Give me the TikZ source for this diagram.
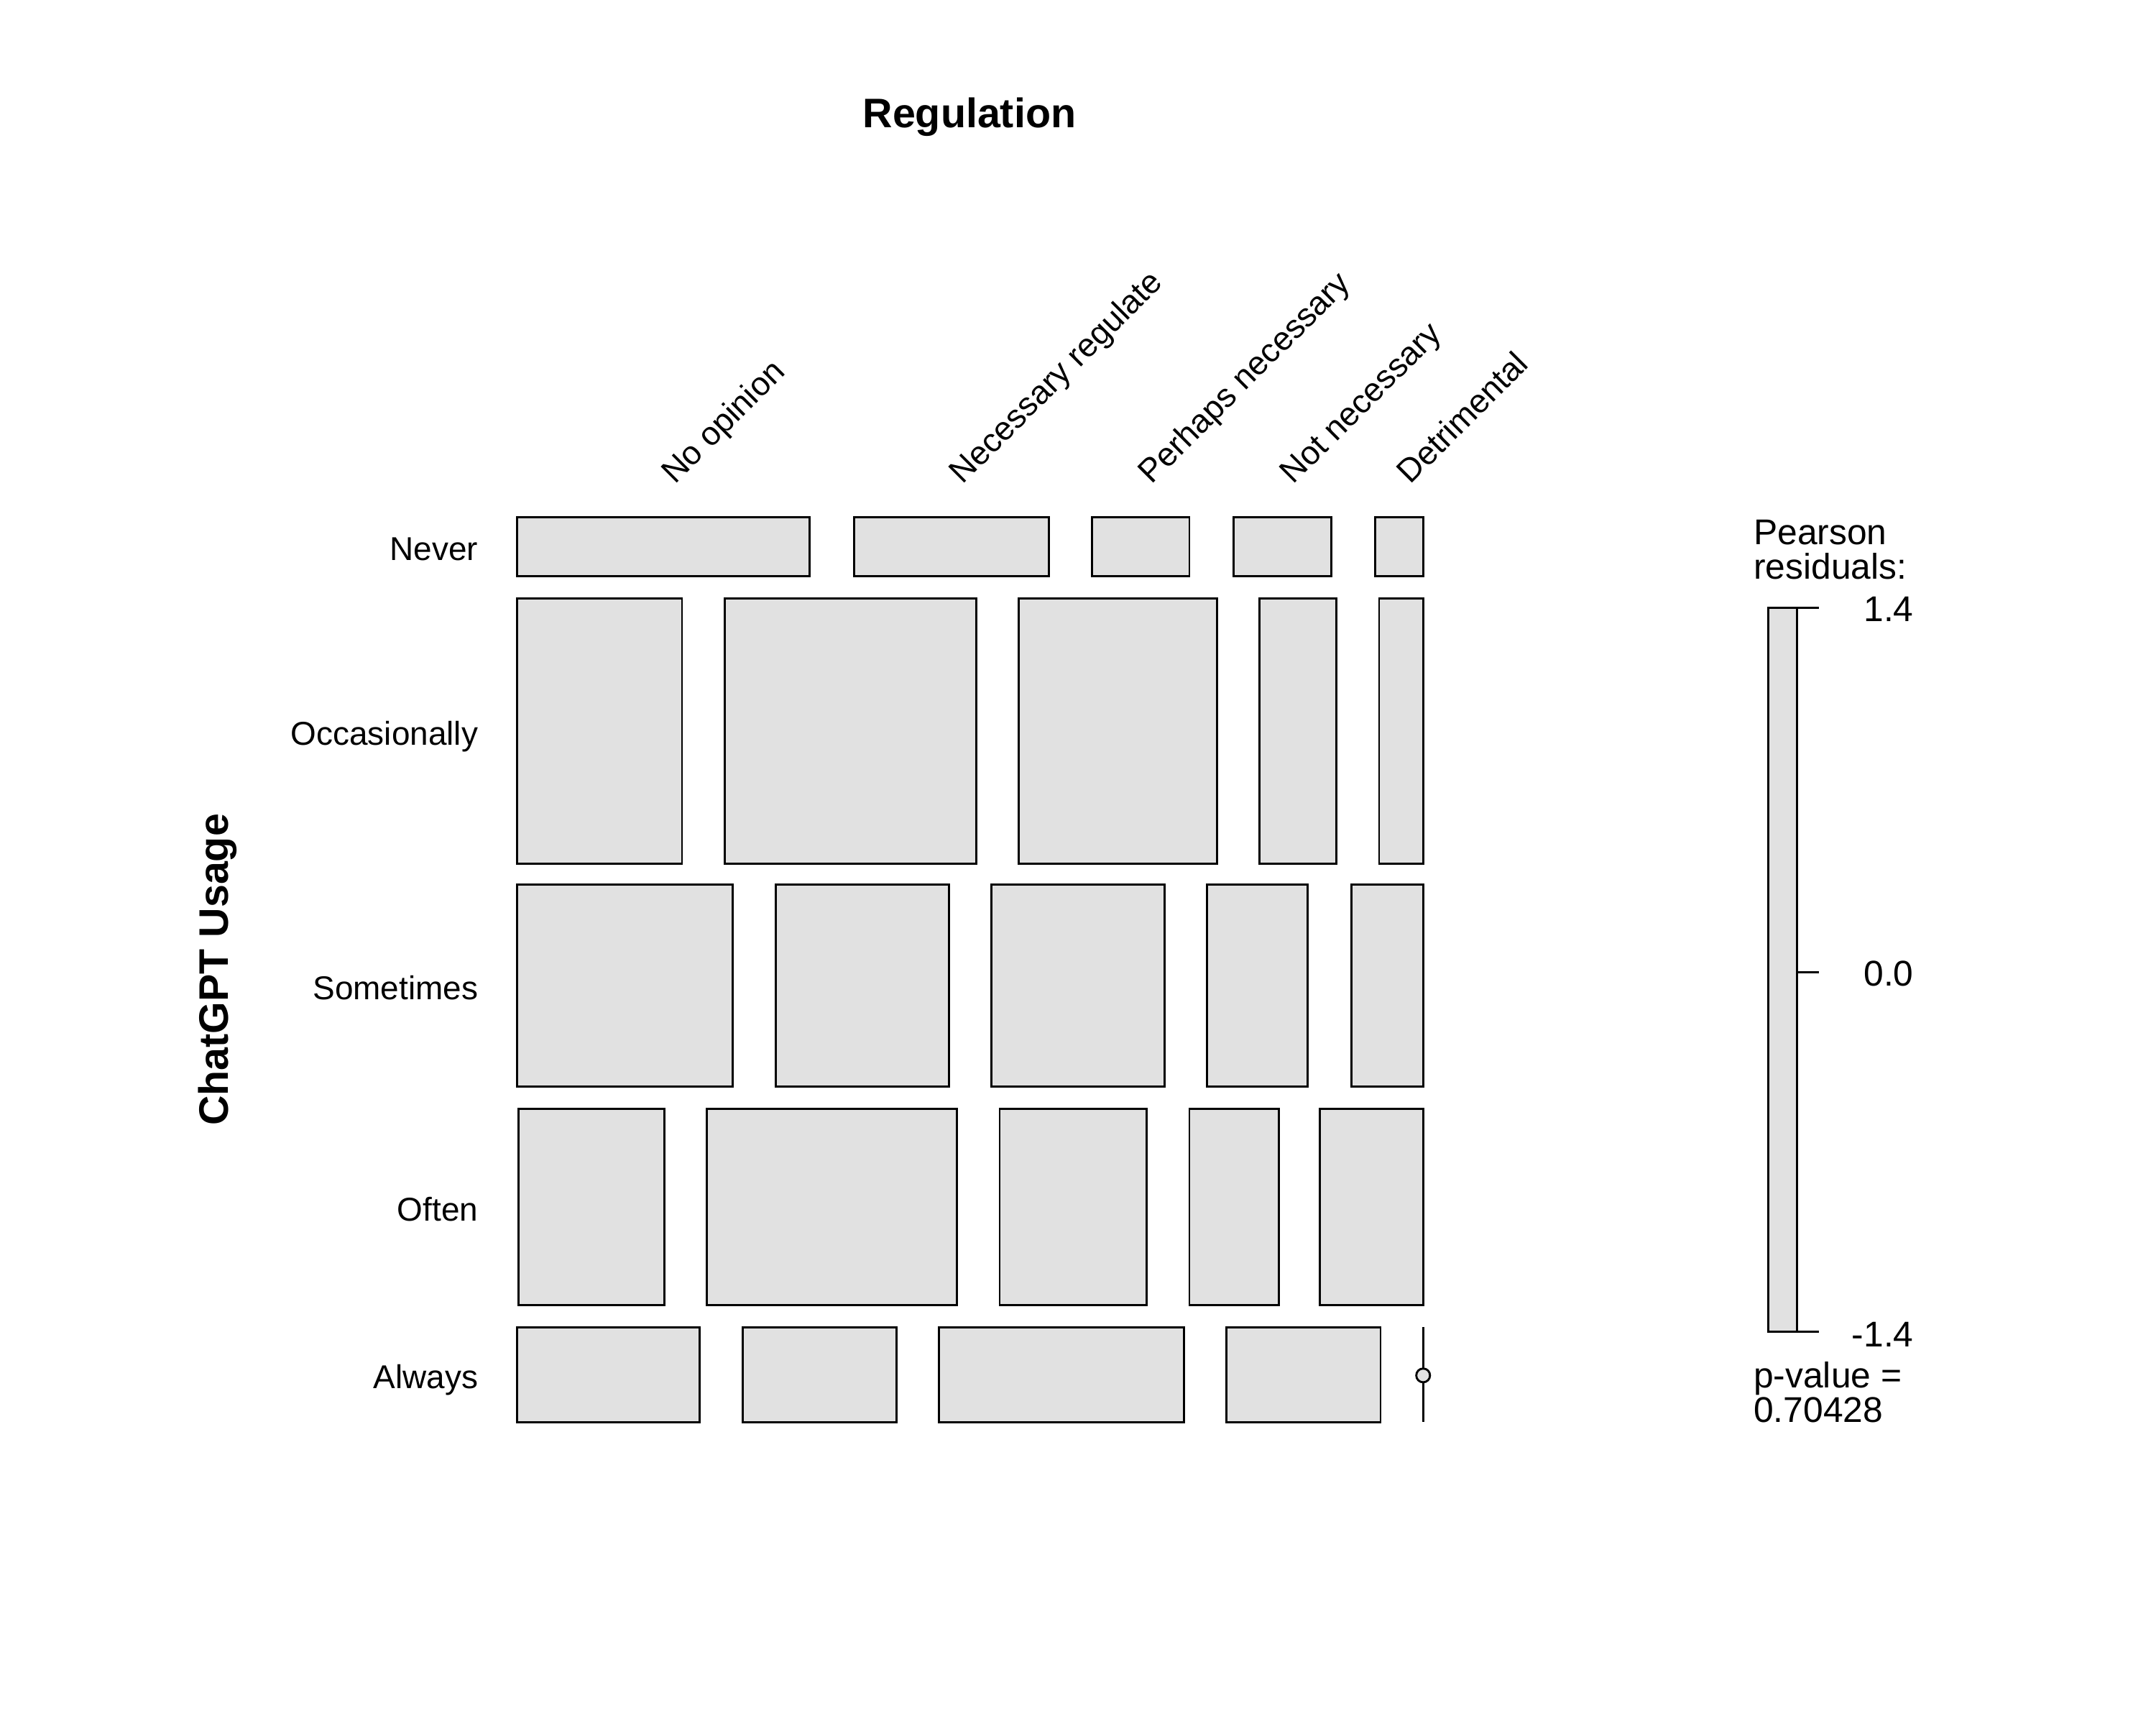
\documentclass[tikz,border=0pt]{standalone}
\usepackage{fontspec}
\setmainfont{Liberation Sans}
\usepackage{tikz}
\definecolor{tilegray}{RGB}{225,225,225}

\begin{document}
\begin{tikzpicture}[x=0.5pt,y=-0.5pt,
tile/.style={draw=black,fill=tilegray,line width=0.75pt},
lab/.style={font=\fontsize{12}{12}\selectfont,inner sep=0pt},
rlab/.style={lab,anchor=base east},
clab/.style={lab,anchor=base west,rotate=45},
leglab/.style={font=\fontsize{13}{13}\selectfont,inner sep=0pt},
ttl/.style={font=\fontsize{15}{15}\selectfont\bfseries,inner sep=0pt}]
	\useasboundingbox (0,0) rectangle (1568,1254.4);
	%titles
	\node[ttl] (regtitle) at (705,85) {Regulation};
	\node[ttl,rotate=90] (usetitle) at (158,705) {ChatGPT Usage};
	%column labels
	\node[clab] (cnoop) at (490.5,353) {No opinion};
	\node[clab] (cnecr) at (700,353) {Necessary regulate};
	\node[clab] (cperh) at (837.5,353) {Perhaps necessary};
	\node[clab] (cnotn) at (940.5,353) {Not necessary};
	\node[clab] (cdetr) at (1025.5,353) {Detrimental};
	%row labels
	\node[rlab] (rnever) at (348,407.5) {Never};
	\node[rlab] (roccas) at (348,541.5) {Occasionally};
	\node[rlab] (rsomet) at (348,726.5) {Sometimes};
	\node[rlab] (roften) at (348,887.5) {Often};
	\node[rlab] (ralway) at (348,1009.5) {Always};
	%never
	\draw[tile] (376,376) rectangle (589,419);
	\draw[tile] (621,376) rectangle (763,419);
	\draw[tile] (794,376) rectangle (865,419);
	\draw[tile] (897,376) rectangle (968,419);
	\draw[tile] (1000,376) rectangle (1035,419);
	%occasionally
	\draw[tile] (376,435) rectangle (496,628);
	\draw[tile] (527,435) rectangle (710,628);
	\draw[tile] (741,435) rectangle (885,628);
	\draw[tile] (916,435) rectangle (972,628);
	\draw[tile] (1003,435) rectangle (1035,628);
	%sometimes
	\draw[tile] (376,643) rectangle (533,790);
	\draw[tile] (564,643) rectangle (690,790);
	\draw[tile] (721,643) rectangle (847,790);
	\draw[tile] (878,643) rectangle (951,790);
	\draw[tile] (983,643) rectangle (1035,790);
	%often
	\draw[tile] (377,806) rectangle (483,949);
	\draw[tile] (514,806) rectangle (696,949);
	\draw[tile] (727,806) rectangle (834,949);
	\draw[tile] (865,806) rectangle (930,949);
	\draw[tile] (960,806) rectangle (1035,949);
	%always
	\draw[tile] (376,965) rectangle (509,1034);
	\draw[tile] (540,965) rectangle (652,1034);
	\draw[tile] (683,965) rectangle (861,1034);
	\draw[tile] (892,965) rectangle (1004,1034);
	\coordinate (z1) at (1035,965);
	\coordinate (z2) at (1035,1034);
	\draw[line width=0.75pt] (z1) -- (z2);
	\draw[tile] (1035,1000) circle (5);
	%legend
	\node[leglab,anchor=base west] (pear1) at (1275,396) {Pearson};
	\node[leglab,anchor=base west] (pear2) at (1275,421) {residuals:};
	\draw[tile] (1286,442) rectangle (1307,968);
	\draw[line width=0.75pt] (1307,442) -- (1323,442);
	\draw[line width=0.75pt] (1307,707) -- (1323,707);
	\draw[line width=0.75pt] (1307,968) -- (1323,968);
	\node[leglab,anchor=base east] (thi) at (1392,452) {1.4};
	\node[leglab,anchor=base east] (tmid) at (1392,717) {0.0};
	\node[leglab,anchor=base east] (tlo) at (1392,979) {-1.4};
	\node[leglab,anchor=base west] (pval1) at (1275,1009) {p-value =};
	\node[leglab,anchor=base west] (pval2) at (1275,1034) {0.70428};
\end{tikzpicture}
\end{document}
